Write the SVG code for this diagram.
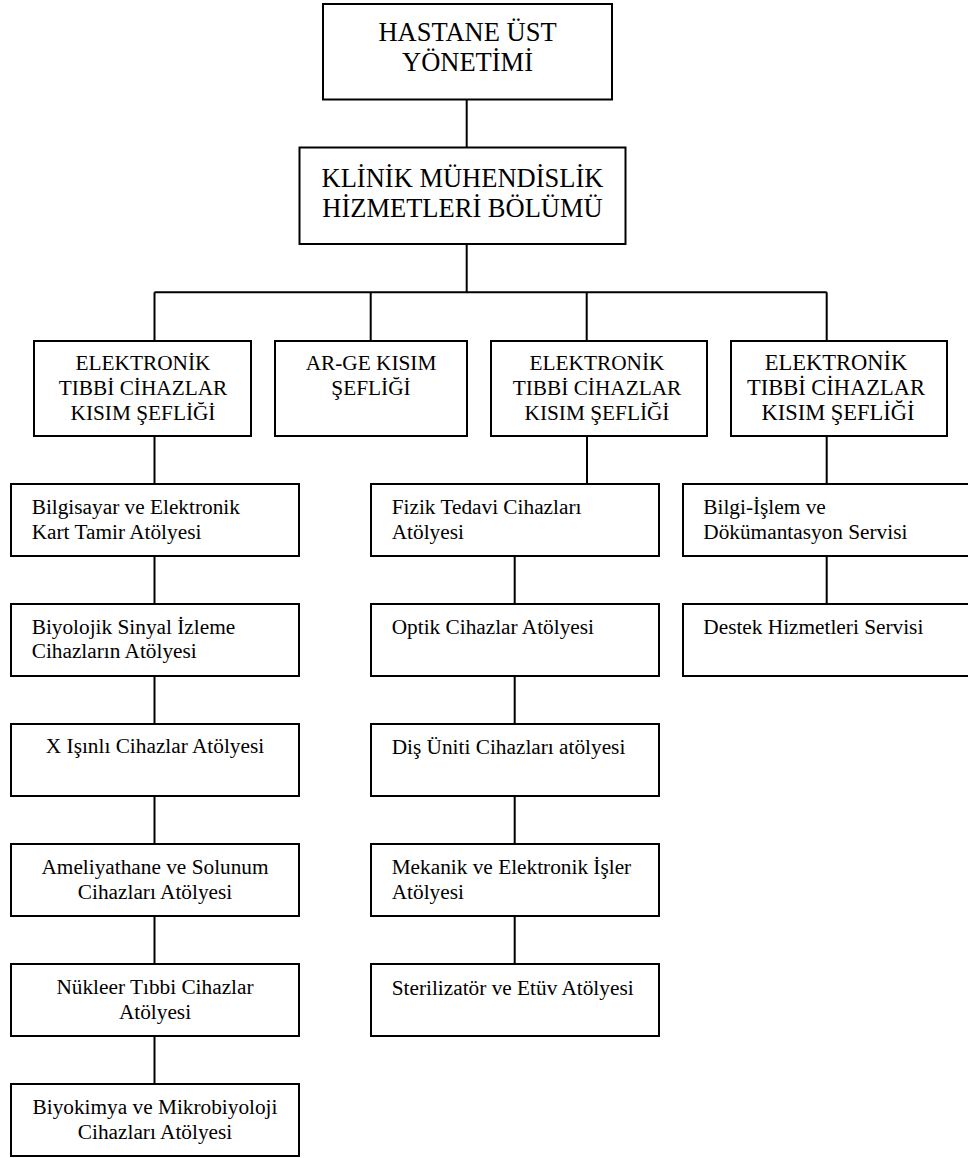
<svg xmlns="http://www.w3.org/2000/svg" width="968" height="1158" viewBox="0 0 968 1158">
  <style>
    .box { fill: #ffffff; stroke: #000000; stroke-width: 2; }
    .link { fill: none; stroke: #000000; stroke-width: 2; }
    text { font-family: "Liberation Serif", "Times New Roman", serif; fill: #000000; }
    .t1 { font-size: 26.5px; text-anchor: middle; }
    .t2 { font-size: 21.3px; text-anchor: middle; }
    .t2b { font-size: 22.5px; text-anchor: middle; }
    .t3 { font-size: 21.3px; }
    .t3c { font-size: 21.3px; text-anchor: middle; }
  </style>

  <!-- connectors -->
  <g id="connectors">
    <path class="link" d="M466.7 99.5 V147.5"/>
    <path class="link" d="M466.7 244 V292.3"/>
    <path class="link" d="M154.5 292.3 H826.7"/>
    <path class="link" d="M154.5 292.3 V341 M370.7 292.3 V341 M586.7 292.3 V341 M826.7 292.3 V341"/>
    <!-- left column -->
    <path class="link" d="M154.5 436 V484 M154.5 556 V604 M154.5 676 V724 M154.5 796 V844 M154.5 916 V964 M154.5 1036 V1084"/>
    <!-- middle column -->
    <path class="link" d="M587 436 V484 M514.7 556 V604 M514.7 676 V724 M514.7 796 V844 M514.7 916 V964"/>
    <!-- right column -->
    <path class="link" d="M826.7 436 V484 M826.7 556 V604"/>
  </g>

  <!-- top management -->
  <g id="n-hastane">
    <rect class="box" x="323" y="4" width="289" height="95.5"/>
    <text class="t1" x="467.5" y="41">HASTANE ÜST</text>
    <text class="t1" x="467.5" y="71">YÖNETİMİ</text>
  </g>

  <g id="n-klinik">
    <rect class="box" x="299.5" y="147.5" width="326" height="96.5"/>
    <text class="t1" x="462.5" y="187">KLİNİK MÜHENDİSLİK</text>
    <text class="t1" x="462.5" y="216.5">HİZMETLERİ BÖLÜMÜ</text>
  </g>

  <!-- section heads -->
  <g id="n-sef1">
    <rect class="box" x="34" y="341" width="217" height="95"/>
    <text class="t2" x="143" y="370">ELEKTRONİK</text>
    <text class="t2" x="143" y="395">TIBBİ CİHAZLAR</text>
    <text class="t2" x="143" y="420">KISIM ŞEFLİĞİ</text>
  </g>

  <g id="n-arge">
    <rect class="box" x="275" y="341" width="192" height="95"/>
    <text class="t2" x="371" y="370">AR-GE KISIM</text>
    <text class="t2" x="371" y="395">ŞEFLİĞİ</text>
  </g>

  <g id="n-sef2">
    <rect class="box" x="491" y="341" width="216" height="95"/>
    <text class="t2" x="597" y="370">ELEKTRONİK</text>
    <text class="t2" x="597" y="395">TIBBİ CİHAZLAR</text>
    <text class="t2" x="597" y="420">KISIM ŞEFLİĞİ</text>
  </g>

  <g id="n-sef3">
    <rect class="box" x="731" y="341" width="216" height="95"/>
    <text class="t2b" x="836" y="370">ELEKTRONİK</text>
    <text class="t2b" x="836" y="395">TIBBİ CİHAZLAR</text>
    <text class="t2b" x="838" y="420">KISIM ŞEFLİĞİ</text>
  </g>

  <!-- left column workshops -->
  <g id="n-bilgisayar">
    <rect class="box" x="11" y="484" width="288" height="72"/>
    <text class="t3" x="31.7" y="513.5">Bilgisayar ve Elektronik</text>
    <text class="t3" x="31.7" y="538.5">Kart Tamir Atölyesi</text>
  </g>

  <g id="n-biyolojik">
    <rect class="box" x="11" y="604" width="288" height="72"/>
    <text class="t3" x="31.7" y="633.5">Biyolojik Sinyal İzleme</text>
    <text class="t3" x="31.7" y="658">Cihazların Atölyesi</text>
  </g>

  <g id="n-xisinli">
    <rect class="box" x="11" y="724" width="288" height="72"/>
    <text class="t3c" x="155" y="753">X Işınlı Cihazlar Atölyesi</text>
  </g>

  <g id="n-ameliyathane">
    <rect class="box" x="11" y="844" width="288" height="72"/>
    <text class="t3c" x="155" y="873.5">Ameliyathane ve Solunum</text>
    <text class="t3c" x="155" y="898.5">Cihazları  Atölyesi</text>
  </g>

  <g id="n-nukleer">
    <rect class="box" x="11" y="964" width="288" height="72"/>
    <text class="t3c" x="155" y="994">Nükleer Tıbbi Cihazlar</text>
    <text class="t3c" x="155" y="1018.5">Atölyesi</text>
  </g>

  <g id="n-biyokimya">
    <rect class="box" x="11" y="1084" width="288" height="72"/>
    <text class="t3c" x="155" y="1113.5">Biyokimya ve Mikrobiyoloji</text>
    <text class="t3c" x="155" y="1138.5">Cihazları Atölyesi</text>
  </g>

  <!-- middle column workshops -->
  <g id="n-fizik">
    <rect class="box" x="371" y="484" width="288" height="72"/>
    <text class="t3" x="391.7" y="513.5">Fizik Tedavi Cihazları</text>
    <text class="t3" x="391.7" y="538.5">Atölyesi</text>
  </g>

  <g id="n-optik">
    <rect class="box" x="371" y="604" width="288" height="72"/>
    <text class="t3" x="391.7" y="634">Optik Cihazlar Atölyesi</text>
  </g>

  <g id="n-dis">
    <rect class="box" x="371" y="724" width="288" height="72"/>
    <text class="t3" x="391.7" y="754">Diş Üniti Cihazları atölyesi</text>
  </g>

  <g id="n-mekanik">
    <rect class="box" x="371" y="844" width="288" height="72"/>
    <text class="t3" x="391.7" y="873.5">Mekanik ve Elektronik İşler</text>
    <text class="t3" x="391.7" y="898.5">Atölyesi</text>
  </g>

  <g id="n-sterilizator">
    <rect class="box" x="371" y="964" width="288" height="72"/>
    <text class="t3" x="391.7" y="994.5">Sterilizatör ve Etüv Atölyesi</text>
  </g>

  <!-- right column services -->
  <g id="n-bilgiislem">
    <rect class="box" x="683" y="484" width="290" height="72"/>
    <text class="t3" x="703.3" y="513.5">Bilgi-İşlem ve</text>
    <text class="t3" x="703.3" y="538.5">Dökümantasyon Servisi</text>
  </g>

  <g id="n-destek">
    <rect class="box" x="683" y="604" width="290" height="72"/>
    <text class="t3" x="703.3" y="634">Destek Hizmetleri Servisi</text>
  </g>
</svg>
